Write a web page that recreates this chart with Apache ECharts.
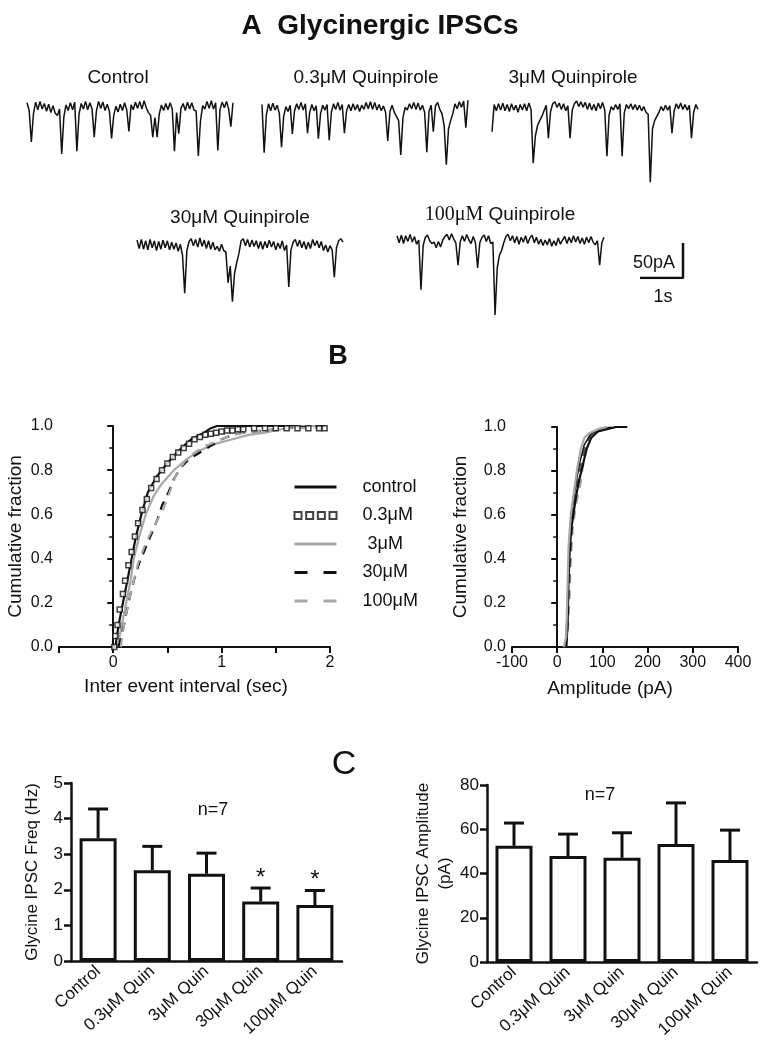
<!DOCTYPE html>
<html><head><meta charset="utf-8">
<script src="https://cdn.jsdelivr.net/npm/echarts@6/dist/echarts.min.js"></script>
<style>html,body{margin:0;padding:0;background:#fff}#c{width:768px;height:1049px}</style>
</head><body><div id="c"></div>
<script>
// ---------- Panel A: example traces (pA, one sample per 0.05 s) ----------
const traceControl = [6,-5,-50,-9,7,-4,8,-3,5,-6,4,-8,2,-9,-12,-3,-67,-14,3,-5,6,-4,7,-63,-10,5,-3,8,-4,6,-3,-43,-6,8,-2,7,-5,4,-6,-45,-12,1,-7,4,-5,6,-4,-35,3,-4,7,-2,8,-3,9,-1,-8,-12,-43,-15,-43,-10,3,-5,5,-4,6,-3,-63,-8,-38,-2,5,-5,7,-3,6,-4,-6,-70,-20,2,-3,8,-2,9,-3,6,-62,-4,7,-1,8,-3,-28,6];
const trace03 = [5,-64,-10,6,-4,7,-3,4,-8,-56,-12,2,-5,4,-37,-4,6,-2,8,-3,6,-36,-6,5,-4,3,-44,-8,4,-3,5,-46,-6,6,-2,8,-3,5,-36,-4,5,-4,6,-3,5,-5,4,-2,8,-1,9,-2,8,-3,5,-4,3,-6,-47,-5,4,-6,-12,-18,-67,-14,1,-3,6,-1,8,-2,7,-3,4,-6,-63,-5,4,-34,3,8,-2,-8,-25,-81,-30,-18,-8,6,-1,9,1,10,-28,11];
const trace3 = [-34,5,-4,6,-3,7,-4,5,-5,6,-3,4,-6,5,-3,6,-4,7,-2,-79,-40,-25,-18,-12,-4,4,-43,-5,6,9,1,7,-2,6,-4,3,-43,-3,6,10,2,9,1,8,-2,7,-3,5,-4,7,-1,8,-3,-69,-10,2,-3,5,-2,6,-69,-7,5,-1,6,-2,5,-3,4,-4,2,-6,-9,-106,-30,-18,-12,-6,2,-4,4,-3,3,-36,-4,6,-1,7,-2,5,-3,4,-43,-6,5,-2];
const trace30 = [7,-5,8,-6,6,-7,8,-4,6,-8,5,-6,7,-4,6,-7,4,-6,3,-9,1,-15,-69,-8,5,9,-1,8,-3,10,-2,7,-5,6,-6,4,-7,-2,-9,1,-8,-10,-54,-30,-81,-40,-25,-12,6,9,-1,8,-3,7,-2,6,-5,5,-6,5,-4,7,-3,5,-7,3,-5,6,-8,0,-60,-7,4,8,-2,7,-4,5,-6,4,-5,8,-1,6,-4,5,-8,0,-10,-1,-7,-46,-4,6,9,4];
const trace100 = [6,-4,7,-5,6,-2,8,-3,5,-6,0,-71,-8,4,7,-1,-5,-3,-11,-2,-10,0,5,8,0,9,2,-4,-36,-3,6,-2,8,0,-5,5,-4,-40,-4,4,7,-2,6,-5,-3,-107,-40,-22,-15,-4,5,8,-1,6,-4,5,-6,4,-3,6,-5,3,7,-4,4,-6,1,-8,0,-7,2,-9,-1,-8,3,-6,0,5,-5,4,-4,6,-3,5,-5,3,-6,4,-4,5,-3,-7,-1,-36,-4,4];
const scaleBarX = [0, 1, 1];      // s
const scaleBarY = [0, 0, 50];     // pA

// ---------- Panel B: cumulative distributions ----------
const ieiControl = [[0.02,0],[0.05,0.1],[0.09,0.2],[0.13,0.3],[0.17,0.4],[0.21,0.5],[0.26,0.6],[0.32,0.7],[0.4,0.77],[0.48,0.82],[0.55,0.86],[0.63,0.9],[0.72,0.94],[0.84,0.97],[0.9,0.99],[0.96,1.0],[1.3,1.0],[1.95,1.0]];
const iei03 = [[0.01,0],[0.02,0.05],[0.04,0.1],[0.06,0.17],[0.09,0.24],[0.11,0.3],[0.14,0.37],[0.17,0.43],[0.2,0.5],[0.23,0.56],[0.27,0.62],[0.31,0.67],[0.35,0.72],[0.4,0.76],[0.45,0.8],[0.5,0.83],[0.55,0.86],[0.6,0.88],[0.65,0.9],[0.7,0.92],[0.75,0.94],[0.8,0.95],[0.85,0.96],[0.9,0.965],[0.95,0.97],[1.0,0.975],[1.05,0.98],[1.1,0.98],[1.15,0.985],[1.2,0.985],[1.3,0.99],[1.4,0.99],[1.5,0.99],[1.6,0.99],[1.7,0.99],[1.8,0.99],[1.9,0.99],[1.95,0.99]];
const iei3 = [[0.04,0],[0.08,0.1],[0.12,0.2],[0.16,0.3],[0.19,0.4],[0.24,0.5],[0.3,0.6],[0.37,0.68],[0.45,0.74],[0.56,0.8],[0.68,0.85],[0.8,0.89],[0.95,0.92],[1.1,0.94],[1.25,0.96],[1.4,0.97],[1.6,0.99],[1.75,1.0],[1.95,1.0]];
const iei30 = [[0.05,0],[0.1,0.1],[0.14,0.2],[0.19,0.3],[0.24,0.38],[0.3,0.45],[0.36,0.52],[0.41,0.58],[0.45,0.64],[0.51,0.7],[0.56,0.76],[0.62,0.81],[0.7,0.85],[0.8,0.88],[0.9,0.91],[1.0,0.94],[1.1,0.96],[1.2,0.97],[1.4,0.98],[1.6,0.99],[1.95,1.0]];
const iei100 = [[0.07,0],[0.1,0.1],[0.14,0.2],[0.19,0.3],[0.23,0.38],[0.3,0.47],[0.38,0.55],[0.46,0.62],[0.52,0.7],[0.58,0.78],[0.66,0.84],[0.75,0.88],[0.85,0.91],[0.95,0.93],[1.05,0.95],[1.2,0.97],[1.4,0.98],[1.6,0.99],[1.95,0.99]];
const ampControl = [[3,0],[20,0],[23,0.1],[25,0.3],[28,0.45],[32,0.55],[37,0.62],[43,0.7],[50,0.77],[57,0.83],[65,0.9],[75,0.95],[90,0.98],[110,0.99],[130,1.0],[155,1.0]];
const amp03 = [[18,0],[22,0.15],[25,0.35],[29,0.55],[35,0.65],[42,0.75],[50,0.84],[60,0.92],[75,0.97],[100,0.99],[120,1.0]];
const amp3 = [[15,0],[20,0.05],[22,0.2],[25,0.45],[30,0.6],[38,0.72],[45,0.82],[52,0.9],[60,0.95],[70,0.97],[90,0.99],[110,1.0]];
const amp30 = [[20,0],[24,0.15],[28,0.35],[33,0.55],[40,0.68],[48,0.78],[55,0.85],[63,0.92],[72,0.96],[90,0.99],[115,1.0]];
const amp100 = [[18,0],[23,0.05],[27,0.2],[30,0.4],[35,0.55],[42,0.65],[50,0.72],[57,0.82],[65,0.9],[75,0.96],[90,0.99],[110,1.0]];
const legendNames = ['control', '0.3μM', ' 3μM', '30μM', '100μM'];

// ---------- Panel C: bar charts ----------
const groups = ['Control', '0.3μM Quin', '3μM Quin', '30μM Quin', '100μM Quin'];
const freqMean = [3.45, 2.55, 2.45, 1.67, 1.57];
const freqSem = [0.82, 0.67, 0.58, 0.38, 0.41];
const freqSig = ['', '', '', '*', '*'];
const ampMean = [52.5, 47.9, 47.1, 53.3, 46.1];
const ampSem = [10.3, 9.9, 11.3, 18.6, 13.5];
const ampSig = ['', '', '', '', ''];

const FONT = 'Liberation Sans, Arial, Helvetica, sans-serif';
const INK = '#111';
const GRAY = '#a8a8a8';

const chart = echarts.init(document.getElementById('c'), null, {renderer: 'canvas'});

function idx(arr) { return arr.map((v, i) => [i, v]); }

function txt(x, y, text, size, extra) {
  return Object.assign({type: 'text', x: x, y: y, style: Object.assign({
    text: text, fontSize: size, fontFamily: FONT, fill: INK,
    align: 'center', verticalAlign: 'middle', textAlign: 'center', textVerticalAlign: 'middle'
  }, extra || {})});
}

const tracePos = [
  {left: 27, top: 93, width: 206},
  {left: 262, top: 94, width: 206},
  {left: 492, top: 94, width: 206},
  {left: 137, top: 231, width: 206},
  {left: 397, top: 226, width: 207}
];
const traces = [traceControl, trace03, trace3, trace30, trace100];

const grids = [];
const xAxes = [];
const yAxes = [];
const series = [];

tracePos.forEach((p, k) => {
  grids.push({left: p.left, top: p.top, width: p.width, height: 98});
  xAxes.push({gridIndex: k, type: 'value', min: 0, max: traces[k].length - 1, show: false});
  yAxes.push({gridIndex: k, type: 'value', min: -120, max: 20, show: false});
  series.push({type: 'line', xAxisIndex: k, yAxisIndex: k, data: idx(traces[k]), symbol: 'none',
    lineStyle: {color: INK, width: 1.5}, silent: true, animation: false});
});

// scale bar grid (index 5)
grids.push({left: 640, top: 243, width: 43, height: 35});
xAxes.push({gridIndex: 5, type: 'value', min: 0, max: 1, show: false});
yAxes.push({gridIndex: 5, type: 'value', min: 0, max: 50, show: false});
series.push({type: 'line', xAxisIndex: 5, yAxisIndex: 5, data: scaleBarX.map((x, i) => [x, scaleBarY[i]]),
  symbol: 'none', lineStyle: {color: INK, width: 2.5}, animation: false, silent: true});

const axisLineStyle = {lineStyle: {color: INK, width: 2}};
const axisTickStyle = {lineStyle: {color: INK, width: 2}, length: 6};
const labelStyle = {color: INK, fontSize: 16, fontFamily: FONT};

// B left (index 6)
grids.push({left: 59, top: 426, width: 271, height: 221});
xAxes.push({gridIndex: 6, type: 'value', min: -0.5, max: 2, interval: 0.5,
  axisLine: axisLineStyle, axisTick: axisTickStyle, splitLine: {show: false},
  axisLabel: Object.assign({}, labelStyle, {margin: 8, formatter: v => (Math.abs(v - Math.round(v)) < 1e-9 && v >= 0) ? String(Math.round(v)) : ''}),
  name: 'Inter event interval (sec)', nameLocation: 'middle', nameGap: 30,
  nameTextStyle: {fontSize: 19, color: INK, fontFamily: FONT, padding: [0, 17, 0, 0]}});
yAxes.push({gridIndex: 6, type: 'value', min: 0, max: 1, interval: 0.2,
  axisLine: Object.assign({show: true}, axisLineStyle), axisTick: Object.assign({show: true}, axisTickStyle),
  minorTick: {show: true, splitNumber: 2, length: 4, lineStyle: {color: INK, width: 1.5}},
  splitLine: {show: false},
  axisLabel: Object.assign({}, labelStyle, {margin: 6, formatter: v => v.toFixed(1)}),
  name: 'Cumulative fraction', nameLocation: 'middle', nameGap: 34,
  nameTextStyle: {fontSize: 19, color: INK, fontFamily: FONT}});

// B right (index 7)
grids.push({left: 512, top: 427, width: 226, height: 220});
xAxes.push({gridIndex: 7, type: 'value', min: -100, max: 400, interval: 100,
  axisLine: axisLineStyle, axisTick: axisTickStyle, splitLine: {show: false},
  axisLabel: Object.assign({}, labelStyle, {margin: 8}),
  name: 'Amplitude (pA)', nameLocation: 'middle', nameGap: 32,
  nameTextStyle: {fontSize: 19, color: INK, fontFamily: FONT, padding: [0, 30, 0, 0]}});
yAxes.push({gridIndex: 7, type: 'value', min: 0, max: 1, interval: 0.2,
  axisLine: Object.assign({show: true}, axisLineStyle), axisTick: Object.assign({show: true}, axisTickStyle),
  minorTick: {show: true, splitNumber: 2, length: 4, lineStyle: {color: INK, width: 1.5}},
  splitLine: {show: false},
  axisLabel: Object.assign({}, labelStyle, {margin: 6, formatter: v => v.toFixed(1)}),
  name: 'Cumulative fraction', nameLocation: 'middle', nameGap: 42,
  nameTextStyle: {fontSize: 19, color: INK, fontFamily: FONT}});

function cdfLine(name, data, xi, color, dashed, width) {
  return {type: 'line', name: name, xAxisIndex: xi, yAxisIndex: xi, data: data, symbol: 'none',
    smooth: false, lineStyle: {color: color, width: width || 2, type: dashed ? [9, 7] : 'solid'},
    itemStyle: {color: color}, animation: false, z: 3};
}
series.push(cdfLine('control', ieiControl, 6, INK, false, 2.2));
series.push({type: 'scatter', name: '0.3μM', xAxisIndex: 6, yAxisIndex: 6, data: iei03, symbol: 'rect', symbolSize: 5,
  itemStyle: {color: '#fff', borderColor: INK, borderWidth: 1.5}, animation: false, z: 4});
series.push(cdfLine(' 3μM', iei3, 6, GRAY, false, 2.2));
series.push(cdfLine('30μM', iei30, 6, INK, true, 2.2));
series.push(cdfLine('100μM', iei100, 6, GRAY, true, 2.2));

series.push(cdfLine('100μM', amp100, 7, GRAY, true, 2));
series.push(cdfLine('30μM', amp30, 7, '#555', true, 2));
series.push(cdfLine('0.3μM', amp03, 7, INK, false, 1.5));
series.push(cdfLine('control', ampControl, 7, INK, false, 2.2));
series.push(cdfLine(' 3μM', amp3, 7, GRAY, false, 2.2));

// C left (index 8), C right (index 9)
function barAxes(gi, gridDef, yMax, yInt, yName, nameGap) {
  grids.push(gridDef);
  xAxes.push({gridIndex: gi, type: 'category', data: groups,
    axisLine: {lineStyle: {color: INK, width: 2.5}},
    axisTick: {alignWithLabel: true, length: 8, lineStyle: {color: INK, width: 2.5}},
    axisLabel: {color: INK, fontSize: 17, fontFamily: FONT, rotate: 42, margin: 8, interval: 0}});
  yAxes.push({gridIndex: gi, type: 'value', min: 0, max: yMax, interval: yInt,
    axisLine: {show: true, lineStyle: {color: INK, width: 2.5}},
    axisTick: {show: true, length: 7, lineStyle: {color: INK, width: 2.5}},
    splitLine: {show: false},
    axisLabel: {color: INK, fontSize: 17, fontFamily: FONT, margin: 8},
    name: yName, nameLocation: 'middle', nameGap: nameGap,
    nameTextStyle: {fontSize: 17, color: INK, fontFamily: FONT, lineHeight: 22}});
}
barAxes(8, {left: 71, top: 783, width: 271, height: 178}, 5, 1, 'Glycine IPSC Freq (Hz)', 28);
barAxes(9, {left: 487, top: 785, width: 270, height: 177}, 80, 20, 'Glycine IPSC Amplitude\n(pA)', 20);

function errRender(sig) {
  return function (params, api) {
    const i = api.value(0), m = api.value(1), e = api.value(2);
    const p0 = api.coord([i, m]);
    const p1 = api.coord([i, m + e]);
    const children = [
      {type: 'line', shape: {x1: p0[0], y1: p0[1], x2: p1[0], y2: p1[1]}, style: {stroke: INK, lineWidth: 3}},
      {type: 'line', shape: {x1: p1[0] - 10, y1: p1[1], x2: p1[0] + 10, y2: p1[1]}, style: {stroke: INK, lineWidth: 3}}
    ];
    if (sig[i]) {
      children.push({type: 'text', x: p1[0], y: p1[1] + 2, style: {text: sig[i], fontSize: 24, fontFamily: FONT, fill: INK,
        align: 'center', verticalAlign: 'bottom', textAlign: 'center', textVerticalAlign: 'bottom'}});
    }
    return {type: 'group', children: children};
  };
}

[[8, freqMean, freqSem, freqSig], [9, ampMean, ampSem, ampSig]].forEach(([gi, mean, sem, sig]) => {
  series.push({type: 'bar', xAxisIndex: gi, yAxisIndex: gi, data: mean, barWidth: 37,
    itemStyle: {color: '#fff', borderColor: INK, borderWidth: 3}, animation: false, silent: true, z: 2});
  series.push({type: 'custom', xAxisIndex: gi, yAxisIndex: gi, data: mean.map((m, i) => [i, m, sem[i]]),
    encode: {x: 0, y: 1}, renderItem: errRender(sig), animation: false, silent: true, z: 3});
});

const squaresIcon = 'path://M0 0h7v7h-7z M11.67 0h7v7h-7z M23.33 0h7v7h-7z M35 0h7v7h-7z';
const noDot = {color: 'rgba(0,0,0,0)', borderColor: 'rgba(0,0,0,0)', borderWidth: 0};

chart.setOption({
  backgroundColor: '#fff',
  animation: false,
  textStyle: {fontFamily: FONT},
  grid: grids,
  xAxis: xAxes,
  yAxis: yAxes,
  series: series,
  legend: {
    orient: 'vertical', left: 288, top: 473, itemWidth: 42, itemHeight: 8, itemGap: 10.5,
    selectedMode: false,
    textStyle: {fontSize: 18, color: INK, fontFamily: FONT, lineHeight: 16, padding: [0, 0, 0, 21]},
    data: [
      {name: legendNames[0], lineStyle: {width: 3}, itemStyle: noDot},
      {name: legendNames[1], icon: squaresIcon, itemStyle: {color: '#fff', borderColor: INK, borderWidth: 2}},
      {name: legendNames[2], lineStyle: {width: 3}, itemStyle: noDot},
      {name: legendNames[3], lineStyle: {width: 3, type: [13, 16]}, itemStyle: noDot},
      {name: legendNames[4], lineStyle: {width: 3, type: [13, 16]}, itemStyle: noDot}
    ]
  },
  graphic: [
    txt(380, 26, 'A  Glycinergic IPSCs', 28, {fontWeight: 'bold'}),
    txt(118, 78, 'Control', 19),
    txt(366, 78, '0.3μM Quinpirole', 19),
    txt(573, 78, '3μM Quinpirole', 19),
    txt(240, 218, '30μM Quinpirole', 19),
    txt(500, 215, '{s|100μM} Quinpirole', 19, {rich: {s: {fontFamily: 'Liberation Serif, Times New Roman, serif', fontSize: 20, fill: INK}}}),
    txt(654, 263, '50pA', 18),
    txt(663, 297, '1s', 18),
    txt(338, 357, 'B', 27, {fontWeight: 'bold'}),
    txt(344, 765, 'C', 34),
    txt(213, 810, 'n=7', 18),
    txt(600, 795, 'n=7', 18)
  ]
});
</script>
</body></html>
